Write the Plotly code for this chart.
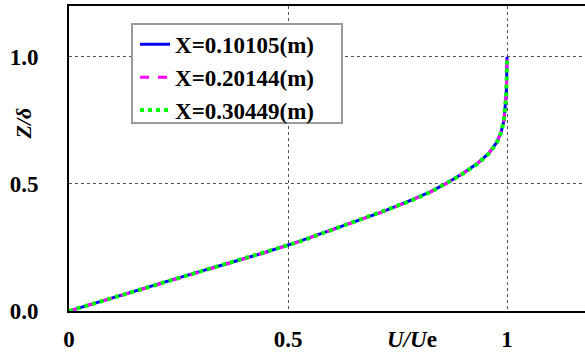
import plotly.graph_objects as go

# Boundary-layer velocity profiles at three streamwise stations
z_delta = [0.00, 0.02, 0.05, 0.08, 0.11, 0.15, 0.19, 0.23, 0.27, 0.31, 0.35, 0.39, 0.43,
           0.47, 0.50, 0.54, 0.58, 0.62, 0.66, 0.70, 0.75, 0.80, 0.85, 0.90, 0.95, 1.00]

u_x010105 = [0.000, 0.038, 0.096, 0.154, 0.212, 0.288, 0.368, 0.447, 0.519, 0.584, 0.649,
             0.715, 0.773, 0.826, 0.859, 0.898, 0.932, 0.958, 0.975, 0.986, 0.993, 0.996,
             0.998, 0.999, 1.000, 1.000]
u_x020144 = [0.000, 0.039, 0.097, 0.155, 0.213, 0.289, 0.369, 0.448, 0.520, 0.585, 0.650,
             0.716, 0.774, 0.827, 0.860, 0.899, 0.932, 0.958, 0.975, 0.986, 0.993, 0.996,
             0.998, 0.999, 1.000, 1.000]
u_x030449 = [0.000, 0.039, 0.097, 0.156, 0.214, 0.290, 0.370, 0.449, 0.521, 0.586, 0.651,
             0.716, 0.775, 0.828, 0.860, 0.899, 0.933, 0.959, 0.976, 0.986, 0.993, 0.996,
             0.998, 0.999, 1.000, 1.000]

series_names = ["X=0.10105(m)", "X=0.20144(m)", "X=0.30449(m)"]

x_tickvals = [0, 0.5, 1]
x_ticktext = ["0", "0.5", "1"]
y_tickvals = [0, 0.5, 1.0]
y_ticktext = ["0.0", "0.5", "1.0"]

FONT = "Liberation Serif"
FS = 23

fig = go.Figure()
fig.add_trace(go.Scatter(x=u_x010105, y=z_delta, mode="lines", name=series_names[0],
                         legendgroup="a", line=dict(color="#0000FF", width=3, dash="solid")))
fig.add_trace(go.Scatter(x=u_x020144, y=z_delta, mode="lines", name=series_names[1],
                         legendgroup="b", line=dict(color="#FF00FF", width=3, dash="dash")))
fig.add_trace(go.Scatter(x=u_x030449, y=z_delta, mode="lines", name=series_names[2],
                         legendgroup="c", line=dict(color="#00FF00", width=4, dash="dot")))

axis_common = dict(
    showline=True, linecolor="black", linewidth=2,
    showgrid=True, gridcolor="#555555", gridwidth=1, griddash="dot",
    zeroline=False, ticks="", automargin=False,
    tickfont=dict(family=FONT, size=FS, color="black", weight="bold"),
)

fig.update_xaxes(range=[0, 1.178], tickvals=x_tickvals, ticktext=x_ticktext,
                 mirror=True, ticklabelstandoff=6, **axis_common)
fig.update_yaxes(range=[0, 1.2], tickvals=y_tickvals, ticktext=y_ticktext,
                 mirror=False, ticklabelstandoff=24, **axis_common)

fig.add_annotation(text="<i>U/U</i>e", xref="paper", yref="paper", x=0.665, y=-0.095,
                   xanchor="center", yanchor="middle", showarrow=False,
                   font=dict(family=FONT, size=FS, color="black", weight="bold"))
fig.add_annotation(text="<i>Z/δ</i>", xref="paper", yref="paper", x=-0.089, y=0.615,
                   xanchor="center", yanchor="middle", showarrow=False, textangle=-90,
                   font=dict(family=FONT, size=22, color="black", weight="bold"))

# Legend frame drawn as a shape so its extent can be set directly
fig.add_shape(type="rect", xref="paper", yref="paper",
              x0=0.1221, x1=0.5291, y0=0.6164, y1=0.941,
              fillcolor="white", line=dict(color="#9a9a9a", width=2), layer="above")

fig.update_layout(
    width=585, height=353,
    margin=dict(l=69, r=0, t=6, b=42, autoexpand=False),
    plot_bgcolor="white", paper_bgcolor="white",
    font=dict(family=FONT, color="black"),
    legend=dict(x=0.128, y=0.945, xanchor="left", yanchor="top",
                bgcolor="rgba(0,0,0,0)", borderwidth=0,
                font=dict(family=FONT, size=FS, color="black", weight="bold"),
                itemwidth=30, tracegroupgap=2, traceorder="normal"),
)

fig.write_html("out.html")
